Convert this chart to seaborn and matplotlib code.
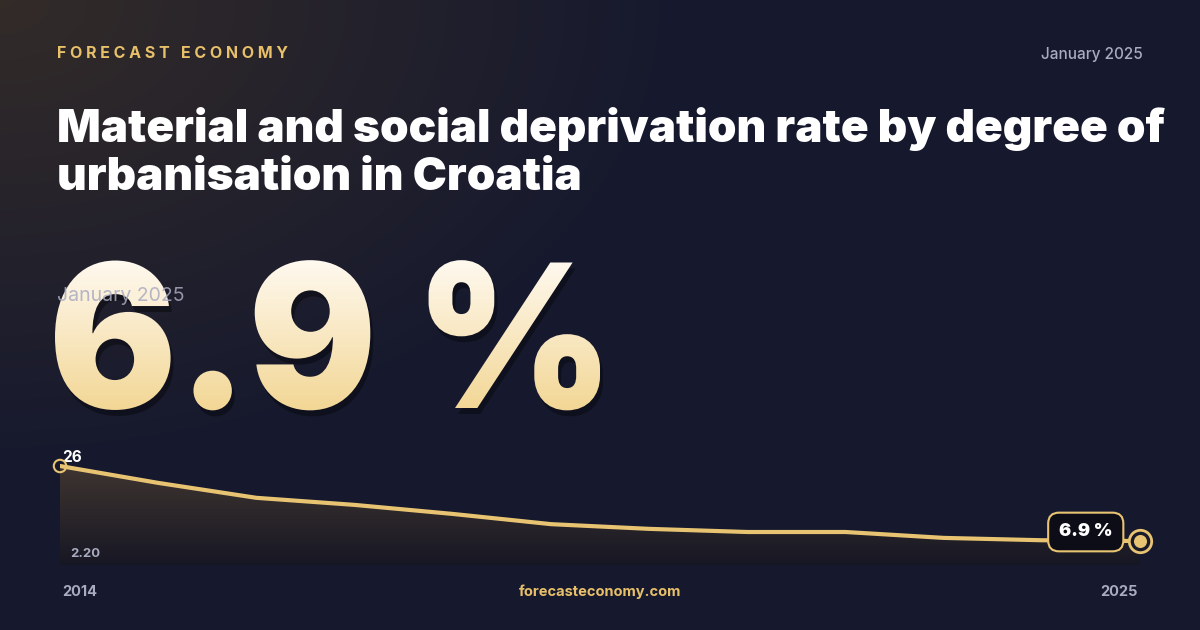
import numpy as np
import pandas as pd
import matplotlib.pyplot as plt
import seaborn as sns
from matplotlib.textpath import TextPath
from matplotlib.font_manager import FontProperties
from matplotlib.patches import PathPatch
from matplotlib.transforms import Affine2D

# datos
years = [2014, 2015, 2016, 2017, 2018, 2019, 2020, 2021, 2022, 2023, 2024, 2025]
rate = [26.0, 21.7, 17.9, 16.1, 13.8, 11.2, 10.0, 9.2, 9.2, 7.7, 7.1, 6.9]
title = "Material and social deprivation rate by degree of\nurbanisation in Croatia"
brand = "FORECAST ECONOMY"
date_label = "January 2025"
big_value = "6.9 %"
y_min_label = "2.20"
y_max_label = "26"

sns.set_theme(style="white")
plt.rcParams['font.family'] = ['Inter', 'DejaVu Sans']

W, H = 1200, 630
fig = plt.figure(figsize=(12, 6.3), dpi=100)

# fondo con degradado
bg = fig.add_axes([0, 0, 1, 1])
yy, xx = np.mgrid[0:H, 0:W]
d = np.sqrt((xx / W) ** 2 + (yy / H) ** 2 * 0.6)
warm = np.clip(1 - d / 0.55, 0, 1)[..., None]
base = np.array([0.09, 0.10, 0.18])
tint = np.array([0.20, 0.17, 0.16])
img = base * (1 - warm) + tint * warm
bg.imshow(img, extent=[0, W, H, 0], aspect='auto')

brand_spaced = "   ".join(" ".join(list(w)) for w in brand.split(" "))
bg.text(57, 53, brand_spaced, color='#e8c06a', fontsize=11.5, fontweight='bold', va='center')
bg.text(1143, 54, date_label, color='#a9abc0', fontsize=11, fontweight='medium', ha='right', va='center')
bg.text(57, 153, title, color='white', fontsize=33, fontweight='black', va='center',
        linespacing=1.2)

# numero grande con degradado
fp = FontProperties(family='Inter', weight='black')
tp = TextPath((0, 0), big_value, size=200, prop=fp)
ext = tp.get_extents()
sx = 545 / ext.width
tr = Affine2D().scale(sx, -1).translate(55 - ext.x0 * sx, 408)
path = tr.transform_path(tp)
shadow = PathPatch(Affine2D().translate(3, 6).transform_path(path), fc='black', ec='none', alpha=0.35, zorder=2)
bg.add_patch(shadow)
patch = PathPatch(path, facecolor='none', edgecolor='none')
bg.add_patch(patch)
grad = np.linspace(0, 1, 200)[:, None]
c1 = np.array([1.0, 0.98, 0.95])
c2 = np.array([0.95, 0.84, 0.58])
gimg = (c1 * (1 - grad[..., None]) + c2 * grad[..., None]) * np.ones((200, 2, 3))
im = bg.imshow(gimg, extent=[40, 640, 412, 255], aspect='auto', zorder=3)
im.set_clip_path(patch)
bg.set_xlim(0, W)
bg.set_ylim(H, 0)
bg.axis('off')
bg.text(57, 296, date_label, color='#a9abc0', fontsize=14, va='center', zorder=4, alpha=0.85)

# grafico de linea
df = pd.DataFrame({"year": years, "rate": rate})
ax = fig.add_axes([60 / W, 1 - 565 / H, 1080 / W, 110 / H])
ax.set_facecolor('none')
ymin, ymax = 0.8, 28.8
xs = np.linspace(2014, 2025, 400)
ys = np.interp(xs, years, rate)
fill_img = np.linspace(0, 1, 100)[:, None, None] * np.ones((100, 2, 3))
top = np.array([0.25, 0.21, 0.19])
bot = np.array([0.09, 0.09, 0.14])
fimg = top * (1 - fill_img) + bot * fill_img
fi = ax.imshow(fimg, extent=[2014, 2025, ymin, 26.5], aspect='auto', zorder=1)
poly = ax.fill_between(xs, ymin, ys, color='none')
fi.set_clip_path(poly.get_paths()[0], transform=ax.transData)
sns.lineplot(data=df, x="year", y="rate", ax=ax, color='#e8c472', linewidth=3, zorder=3)
ax.scatter([2014], [rate[0]], s=80, facecolor='none', edgecolor='#e8c472', lw=1.5, zorder=4, clip_on=False)
ax.scatter([2025], [rate[-1]], s=260, facecolor='#1a1a2a', edgecolor='#e8c472', lw=2, zorder=4, clip_on=False)
ax.scatter([2025], [rate[-1]], s=70, color='#e8c472', zorder=5, clip_on=False)
ax.set_xlim(2014, 2025)
ax.set_ylim(ymin, ymax)
ax.axis('off')
ax.text(2014.02, rate[0] + 0.3, y_max_label, color='white', fontsize=11, fontweight='bold', va='bottom')
ax.text(2014.1, 3.5, y_min_label, color='#a9abc0', fontsize=9.5, fontweight='bold', va='center')
ax.text(2024.72, rate[-1] + 2.3, f"{rate[-1]} %", color='white', fontsize=13, fontweight='black',
        ha='right', va='center', zorder=6,
        bbox=dict(boxstyle='round,pad=0.6', fc='#0d0d18', ec='#e8c472', lw=1.5))

bg.text(62, 592, str(years[0]), color='#a9abc0', fontsize=10.5, fontweight='bold', va='center')
bg.text(1138, 592, str(years[-1]), color='#a9abc0', fontsize=10.5, fontweight='bold', va='center', ha='right')
bg.text(600, 592, "forecasteconomy.com", color='#e8c06a', fontsize=10.5, fontweight='bold',
        va='center', ha='center')

fig.savefig("out.png", dpi=100)
